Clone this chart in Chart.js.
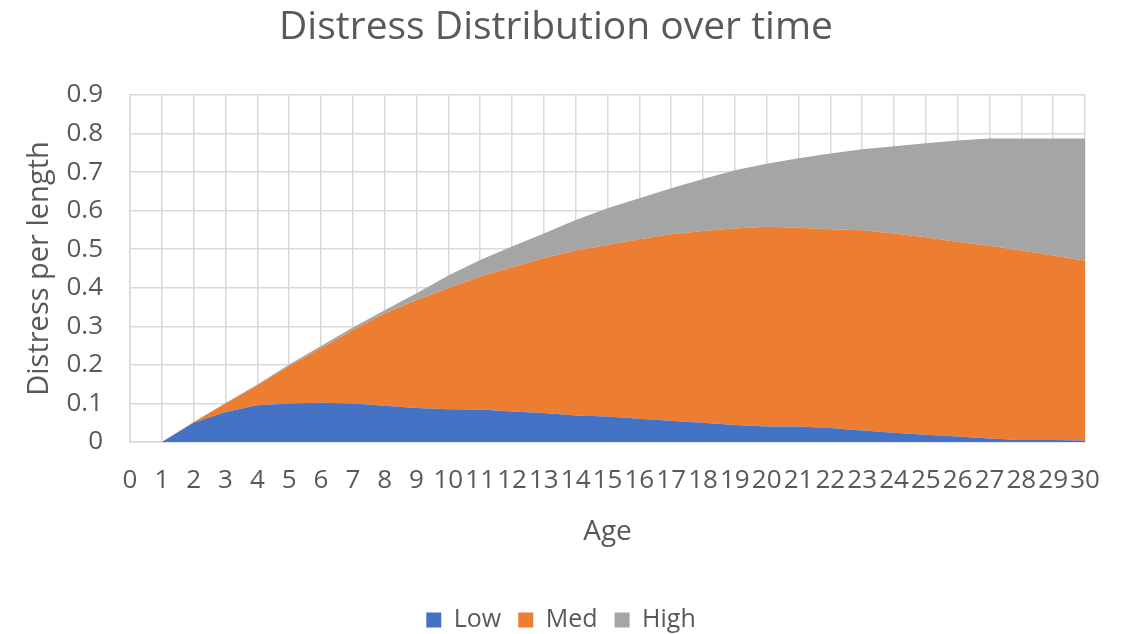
<!DOCTYPE html>
<html>
<head>
<meta charset="utf-8">
<script src="https://cdn.jsdelivr.net/npm/chart.js@4/dist/chart.umd.min.js"></script>
<style>
  html, body { margin: 0; padding: 0; background: #ffffff; }
  #wrap { width: 1125px; height: 634px; }
</style>
</head>
<body>
<div id="wrap"><canvas id="c" width="1125" height="634"></canvas></div>
<script>
const ages = ['0','1','2','3','4','5','6','7','8','9','10','11','12','13','14','15','16','17','18','19','20','21','22','23','24','25','26','27','28','29','30'];
const yTickLabels = ['0','0.1','0.2','0.3','0.4','0.5','0.6','0.7','0.8','0.9'];
const lowValues  = [null, 0, 0.050, 0.078, 0.095, 0.100, 0.102, 0.100, 0.094, 0.088, 0.085, 0.084, 0.079, 0.075, 0.069, 0.066, 0.060, 0.055, 0.050, 0.044, 0.040, 0.040, 0.036, 0.030, 0.024, 0.019, 0.014, 0.009, 0.005, 0.005, 0.004];
const medValues  = [null, 0, 0.002, 0.022, 0.052, 0.097, 0.142, 0.190, 0.240, 0.280, 0.314, 0.345, 0.374, 0.402, 0.428, 0.445, 0.466, 0.484, 0.497, 0.510, 0.518, 0.516, 0.516, 0.519, 0.517, 0.512, 0.505, 0.500, 0.492, 0.479, 0.466];
const highValues = [null, 0, 0, 0.001, 0.002, 0.004, 0.005, 0.007, 0.008, 0.018, 0.033, 0.043, 0.054, 0.064, 0.079, 0.095, 0.106, 0.119, 0.135, 0.151, 0.164, 0.180, 0.196, 0.210, 0.226, 0.244, 0.263, 0.278, 0.290, 0.303, 0.317];

const FONT = "'Open Sans', 'DejaVu Sans', sans-serif";
const TXT = '#595959';
const GRID = '#d9d9d9';

// trims the legend box height and nudges it horizontally
const legendTweak = {
  id: 'legendTweak',
  afterInit(chart) {
    const lg = chart.legend;
    if (!lg) return;
    const fit = lg.fit.bind(lg);
    lg.fit = function () { fit(); this.height -= 8.5; };
    const draw = lg.draw.bind(lg);
    lg.draw = function () {
      const ctx = this.ctx;
      ctx.save();
      ctx.translate(5, 0);
      draw();
      ctx.restore();
    };
  }
};

new Chart(document.getElementById('c'), {
  type: 'line',
  data: {
    labels: ages,
    datasets: [
      { label: 'Low',  data: lowValues,  backgroundColor: '#4472C4', borderColor: '#4472C4', fill: 'origin', borderWidth: 0, pointRadius: 0, tension: 0 },
      { label: 'Med',  data: medValues,  backgroundColor: '#ED7D31', borderColor: '#ED7D31', fill: '-1', borderWidth: 0, pointRadius: 0, tension: 0 },
      { label: 'High', data: highValues, backgroundColor: '#A5A5A5', borderColor: '#A5A5A5', fill: '-1', borderWidth: 0, pointRadius: 0, tension: 0 }
    ]
  },
  options: {
    responsive: false,
    animation: false,
    devicePixelRatio: 1,
    layout: { padding: { left: 27, right: 40, top: 0, bottom: 0 } },
    plugins: {
      tooltip: { enabled: false },
      title: {
        display: true,
        text: 'Distress Distribution over time',
        color: TXT,
        font: { family: FONT, size: 39, weight: 'normal' },
        padding: { top: 4, bottom: 44.2 }
      },
      legend: {
        position: 'bottom',
        labels: {
          color: TXT,
          font: { family: FONT, size: 25 },
          boxWidth: 15,
          boxHeight: 15,
          padding: 17
        }
      }
    },
    scales: {
      x: {
        grid: { color: GRID, lineWidth: 1.5, drawTicks: false },
        border: { color: GRID, width: 1.5 },
        ticks: { color: TXT, font: { family: FONT, size: 26 }, autoSkip: false, maxRotation: 0, padding: 23.4 },
        title: { display: true, text: 'Age', color: TXT, font: { family: FONT, size: 28 }, padding: { top: 18.3, bottom: 42 } },
        afterFit: (s) => { s.height = 148.5; }
      },
      y: {
        stacked: true,
        min: 0,
        max: 0.9,
        grid: { color: GRID, lineWidth: 1.5, drawTicks: false },
        border: { color: GRID, width: 1.5 },
        ticks: {
          stepSize: 0.1,
          color: TXT,
          font: { family: FONT, size: 26 },
          padding: 27,
          callback: (v, i) => yTickLabels[i]
        },
        title: { display: true, text: 'Distress per length', color: TXT, font: { family: FONT, size: 29 }, padding: { top: -4.4, bottom: 0 } },
        afterFit: (s) => { s.width = 103; }
      }
    }
  },
  plugins: [legendTweak]
});
</script>
</body>
</html>
